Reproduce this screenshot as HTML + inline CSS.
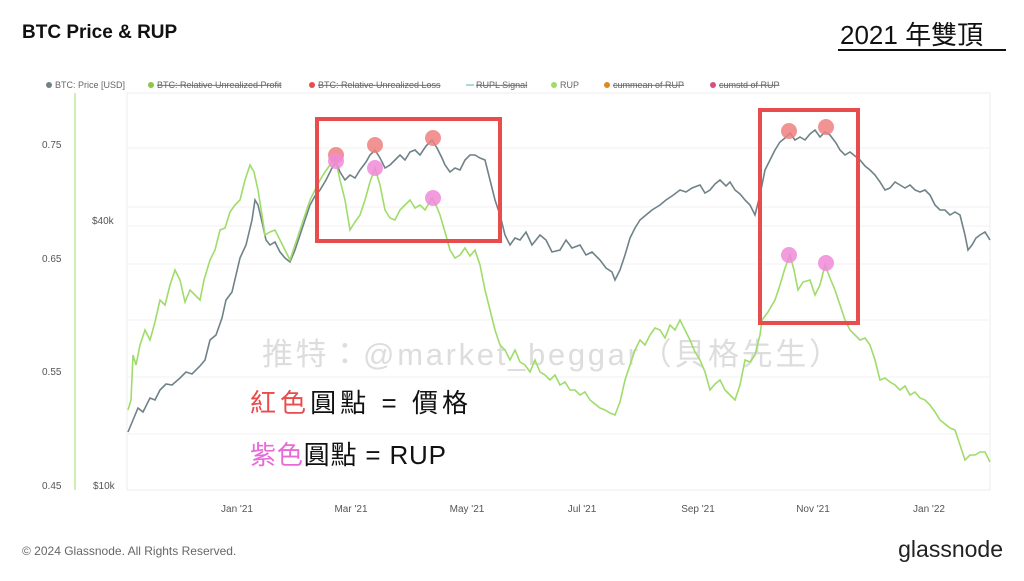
<!DOCTYPE html>
<html><head><meta charset="utf-8"><style>
body{margin:0;width:1024px;height:576px;background:#fff;overflow:hidden;font-family:"Liberation Sans","Noto Sans CJK TC",sans-serif}
</style></head><body>
<svg width="1024" height="576" viewBox="0 0 1024 576" xmlns="http://www.w3.org/2000/svg" font-family="Liberation Sans, Noto Sans CJK TC, sans-serif">
<text x="22" y="38" font-size="19" font-weight="bold" fill="#111">BTC Price &amp; RUP</text>
<text x="840" y="44" font-size="26" fill="#111">2021 年雙頂</text>
<line x1="838" y1="50" x2="1006" y2="50" stroke="#111" stroke-width="2"/>
<g font-size="9" fill="#666">
<circle cx="49" cy="85" r="3" fill="#6f8288"/><text x="55" y="88">BTC: Price [USD]</text>
<circle cx="151" cy="85" r="3" fill="#8cc63f"/><text x="157" y="88" text-decoration="line-through">BTC: Relative Unrealized Profit</text>
<circle cx="312" cy="85" r="3" fill="#e84c4c"/><text x="318" y="88" text-decoration="line-through">BTC: Relative Unrealized Loss</text>
<line x1="466" y1="85" x2="474" y2="85" stroke="#a8dcd8" stroke-width="2"/><text x="476" y="88" text-decoration="line-through">RUPL Signal</text>
<circle cx="554" cy="85" r="3" fill="#9fdc6a"/><text x="560" y="88">RUP</text>
<circle cx="607" cy="85" r="3" fill="#e08a1e"/><text x="613" y="88" text-decoration="line-through">cummean of RUP</text>
<circle cx="713" cy="85" r="3" fill="#d94f7a"/><text x="719" y="88" text-decoration="line-through">cumstd of RUP</text>
</g>
<line x1="75" y1="93" x2="75" y2="490" stroke="#9fdc6a" stroke-width="1"/>
<line x1="127" y1="93" x2="127" y2="490" stroke="#bfe3e8" stroke-width="1"/>
<rect x="127" y="93" width="863" height="397" fill="none" stroke="#eee"/>
<g stroke="#f2f2f2">
<line x1="127" y1="148" x2="990" y2="148"/><line x1="127" y1="207" x2="990" y2="207"/><line x1="127" y1="226" x2="990" y2="226"/><line x1="127" y1="264" x2="990" y2="264"/><line x1="127" y1="320" x2="990" y2="320"/><line x1="127" y1="377" x2="990" y2="377"/><line x1="127" y1="434" x2="990" y2="434"/>
</g>
<g font-size="10" fill="#555">
<text x="42" y="148">0.75</text><text x="42" y="262">0.65</text><text x="42" y="375">0.55</text><text x="42" y="489">0.45</text>
<text x="92" y="224">$40k</text><text x="93" y="489">$10k</text>
</g>
<g font-size="10" fill="#555" text-anchor="middle">
<text x="237" y="512">Jan '21</text><text x="351" y="512">Mar '21</text><text x="467" y="512">May '21</text><text x="582" y="512">Jul '21</text><text x="698" y="512">Sep '21</text><text x="813" y="512">Nov '21</text><text x="929" y="512">Jan '22</text>
</g>
<text x="262" y="365" font-size="31" fill="#ddd" textLength="578" lengthAdjust="spacing">推特：@market_beggar（貝格先生）</text>
<polyline fill="none" stroke="#6f8288" stroke-width="1.6" points="128,432 133,420 138,408 143,412 150,398 155,400 160,390 166,384 172,385 180,378 186,372 192,374 200,366 205,360 210,340 216,335 222,318 226,300 232,292 240,258 246,245 252,220 255,200 258,205 262,222 266,240 270,245 275,242 280,252 285,258 290,262 295,250 300,235 305,220 310,205 315,196 320,190 326,180 332,168 336,162 340,172 345,180 350,175 355,178 360,170 366,162 370,155 375,150 380,158 385,168 390,165 395,160 400,155 405,160 410,152 415,150 420,155 426,146 432,140 437,148 442,158 445,165 450,172 455,168 460,170 465,160 470,155 475,155 480,158 485,160 490,180 495,200 500,215 505,235 510,245 515,238 520,240 526,232 532,245 540,235 546,240 552,252 560,250 566,240 572,248 580,245 586,255 592,252 600,260 606,268 612,272 615,280 620,270 625,255 630,238 635,228 640,220 646,215 652,210 660,205 666,200 672,196 680,190 686,192 692,188 700,185 705,193 710,190 715,184 720,180 726,186 730,182 735,190 740,194 745,200 750,205 755,215 760,195 765,170 770,160 775,150 780,142 785,138 790,133 795,140 800,137 805,140 810,134 815,130 820,137 825,132 830,135 836,143 840,150 845,155 850,152 855,156 860,160 865,166 870,170 875,175 880,182 885,190 890,188 895,182 900,185 905,188 910,185 915,190 920,192 925,190 930,195 935,205 940,210 945,210 950,215 955,212 960,215 965,235 968,250 972,245 976,238 980,235 985,232 990,240"/>
<polyline fill="none" stroke="#9fdc6a" stroke-width="1.6" points="128,410 131,400 133,355 136,365 140,345 145,330 150,340 155,322 160,300 165,305 170,285 175,270 180,280 185,302 190,290 195,295 200,300 204,280 207,270 210,260 215,250 220,230 225,228 230,212 235,205 240,200 245,180 250,165 254,172 258,190 262,215 265,235 270,232 275,230 280,240 285,250 290,260 295,245 300,230 305,215 310,200 315,190 320,180 325,172 330,165 335,158 340,180 345,200 350,230 355,222 360,215 365,200 370,182 375,168 380,185 385,210 390,218 395,220 400,210 405,205 410,200 415,208 420,205 425,210 432,198 436,205 440,215 445,232 450,250 455,258 460,255 465,248 470,256 475,250 480,265 485,290 490,310 495,330 500,345 505,350 510,360 515,350 520,362 525,365 530,372 535,360 540,372 545,375 550,380 555,375 560,385 565,382 570,390 575,390 580,395 585,392 590,400 595,404 600,408 605,410 610,413 615,415 620,402 625,380 630,365 635,350 640,340 645,345 650,335 655,328 660,330 665,338 670,325 675,330 680,320 685,330 690,340 695,352 700,360 705,372 710,390 715,384 720,380 725,390 730,395 735,400 740,385 745,360 750,362 755,355 760,335 762,320 768,312 775,300 780,285 785,268 790,255 794,270 798,290 803,282 810,280 815,295 820,285 825,265 830,278 835,290 840,305 845,320 850,330 855,335 860,340 865,338 870,345 875,360 880,380 885,378 890,382 895,385 900,390 905,386 910,395 915,392 920,398 925,400 930,405 935,412 940,420 945,424 950,428 955,430 960,445 965,460 970,455 975,455 980,452 985,452 990,462"/>
<g fill="none" stroke="#e84c4c" stroke-width="4">
<rect x="317" y="119" width="183" height="122"/><rect x="760" y="110" width="98" height="213"/>
</g>
<g fill="#f08080" fill-opacity="0.85">
<circle cx="336" cy="155" r="8"/><circle cx="375" cy="145" r="8"/><circle cx="433" cy="138" r="8"/><circle cx="789" cy="131" r="8"/><circle cx="826" cy="127" r="8"/>
</g>
<g fill="#f08ad8" fill-opacity="0.85">
<circle cx="336" cy="161" r="8"/><circle cx="375" cy="168" r="8"/><circle cx="433" cy="198" r="8"/><circle cx="789" cy="255" r="8"/><circle cx="826" cy="263" r="8"/>
</g>
<g font-size="26">
<text x="250" y="412" textLength="218" lengthAdjust="spacing"><tspan fill="#e84c4c">紅色</tspan><tspan fill="#111">圓點 = 價格</tspan></text>
<text x="250" y="464" textLength="196" lengthAdjust="spacing"><tspan fill="#e86ad8">紫色</tspan><tspan fill="#111">圓點 = RUP</tspan></text>
</g>
<text x="22" y="555" font-size="12" fill="#666">© 2024 Glassnode. All Rights Reserved.</text>
<text x="1003" y="557" font-size="23" fill="#222" text-anchor="end">glassnode</text>
</svg>
</body></html>
